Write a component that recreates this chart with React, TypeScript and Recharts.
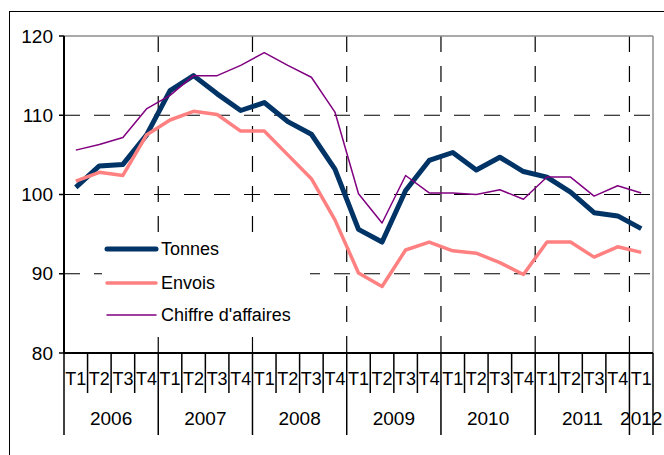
import { LineChart, Line, XAxis, YAxis, CartesianGrid, Legend } from 'recharts'

const yearNames = ['2006', '2007', '2008', '2009', '2010', '2011', '2012']
const quarterNames = ['T1', 'T2', 'T3', 'T4']
const quartersPerYear = [4, 4, 4, 4, 4, 4, 1]

const tonnes = [
  100.9, 103.6, 103.8, 107.5, 113.1, 115.0, 112.7, 110.6, 111.6, 109.2, 107.6, 103.2, 95.6,
  94.0, 100.5, 104.3, 105.3, 103.1, 104.7, 102.9, 102.2, 100.3, 97.7, 97.3, 95.7,
]
const envois = [
  101.7, 102.8, 102.4, 107.5, 109.4, 110.5, 110.1, 108.0, 108.0, 105.0, 102.0, 96.8, 90.1,
  88.4, 93.0, 94.0, 92.9, 92.6, 91.4, 89.9, 94.0, 94.0, 92.1, 93.4, 92.7,
]
const chiffre = [
  105.6, 106.3, 107.2, 110.8, 112.5, 115.0, 115.0, 116.3, 117.9, 116.3, 114.8, 110.4, 100.1,
  96.4, 102.4, 100.2, 100.2, 100.0, 100.6, 99.4, 102.2, 102.2, 99.8, 101.1, 100.2,
]
const yTicks = [80, 90, 100, 110, 120]
const gridValues = [90, 100, 110]

const series = [
  { key: 'Tonnes', color: '#003366', width: 5 },
  { key: 'Envois', color: '#FF8080', width: 3.5 },
  { key: "Chiffre d'affaires", color: '#800080', width: 1.5 },
]

const chartData = yearNames
  .flatMap((year, yi) => quarterNames.slice(0, quartersPerYear[yi]).map((quarter) => ({ year, quarter })))
  .map((d, i) => ({
    ...d,
    key: `${d.year}-${d.quarter}`,
    Tonnes: tonnes[i],
    Envois: envois[i],
    "Chiffre d'affaires": chiffre[i],
  }))

const FONT = '"Liberation Sans", Arial, sans-serif'
const W = 664
const H = 455
const PLOT_LEFT = 64
const PLOT_RIGHT = 653
const PLOT_TOP = 36
const AXIS_Y = 353
const STEP = (PLOT_RIGHT - PLOT_LEFT) / chartData.length

// boundaries between years, as category indexes
const yearStarts = chartData
  .map((d, i) => (i > 0 && chartData[i - 1].year !== d.year ? i : -1))
  .filter((i) => i > 0)

function AxisTick(props: any) {
  const { x, payload } = props
  const i = payload.index
  const d = chartData[i]
  const half = STEP / 2
  const isYearStart = i === 0 || chartData[i - 1].year !== d.year
  const isLast = i === chartData.length - 1
  const inYear = chartData.filter((c) => c.year === d.year).length
  return (
    <g>
      <line
        x1={x - half}
        x2={x - half}
        y1={AXIS_Y}
        y2={isYearStart ? AXIS_Y + 82 : AXIS_Y + 40}
        stroke="#000"
        strokeWidth={1.5}
      />
      {isLast && (
        <line x1={x + half} x2={x + half} y1={AXIS_Y} y2={AXIS_Y + 82} stroke="#000" strokeWidth={1.5} />
      )}
      <text x={x} y={AXIS_Y + 32} textAnchor="middle" fontSize={18} fontFamily={FONT} fill="#000">
        {d.quarter}
      </text>
      {isYearStart && (
        <text
          x={x + (inYear - 1) * half}
          y={AXIS_Y + 72}
          textAnchor="middle"
          fontSize={19}
          fontFamily={FONT}
          fill="#000"
        >
          {d.year}
        </text>
      )}
    </g>
  )
}

function LegendBox() {
  const rows = [16, 50, 82]
  return (
    <svg width={208} height={104} style={{ display: 'block', background: '#fff' }}>
      {series.map((s, k) => (
        <g key={s.key}>
          <line x1={5} x2={54} y1={rows[k]} y2={rows[k]} stroke={s.color} strokeWidth={s.width} strokeLinecap="round" />
          <text x={59} y={rows[k] + 6} fontSize={18} fontFamily={FONT} fill="#000">
            {s.key}
          </text>
        </g>
      ))}
    </svg>
  )
}

export default function App() {
  return (
    <div style={{ position: 'absolute', left: 0, top: 0, width: W, height: H, overflow: 'hidden', background: '#fff' }}>
      <div
        style={{
          position: 'absolute',
          left: 9,
          top: 11,
          width: 700,
          height: 500,
          borderTop: '1.5px solid #000',
          borderLeft: '1.5px solid #000',
        }}
      />
      <div style={{ position: 'absolute', left: 0, top: 0 }}>
        <LineChart width={W} height={H} data={chartData} margin={{ top: PLOT_TOP, right: W - PLOT_RIGHT, left: 0, bottom: 0 }}>
          <CartesianGrid
            stroke="#000"
            strokeWidth={1.2}
            strokeDasharray="16 14"
            horizontalValues={gridValues}
            verticalCoordinatesGenerator={({ offset }: any) =>
              yearStarts.map((i) => (offset?.left ?? PLOT_LEFT) + i * STEP)
            }
          />
          <CartesianGrid
            stroke="#8c8c8c"
            strokeWidth={1.5}
            horizontalCoordinatesGenerator={() => [PLOT_TOP]}
            verticalCoordinatesGenerator={() => [PLOT_RIGHT]}
          />
          <XAxis
            dataKey="key"
            scale="band"
            interval={0}
            height={H - AXIS_Y}
            axisLine={{ stroke: '#000', strokeWidth: 2 }}
            tickLine={false}
            tick={<AxisTick />}
          />
          <YAxis
            width={PLOT_LEFT}
            domain={[80, 120]}
            ticks={yTicks}
            interval={0}
            axisLine={{ stroke: '#000', strokeWidth: 2 }}
            tickLine={{ stroke: '#000', strokeWidth: 1.5 }}
            tickSize={5}
            tickMargin={6}
            tick={{ fill: '#000', fontSize: 19, fontFamily: FONT }}
          />
          {series.map((s) => (
            <Line
              key={s.key}
              type="linear"
              dataKey={s.key}
              stroke={s.color}
              strokeWidth={s.width}
              strokeLinejoin="round"
              dot={false}
              activeDot={false}
              isAnimationActive={false}
            />
          ))}
          <Legend
            layout="horizontal"
            verticalAlign="middle"
            align="center"
            width={208}
            height={104}
            wrapperStyle={{ left: 102, top: 233 }}
            content={<LegendBox />}
          />
        </LineChart>
      </div>
    </div>
  )
}
